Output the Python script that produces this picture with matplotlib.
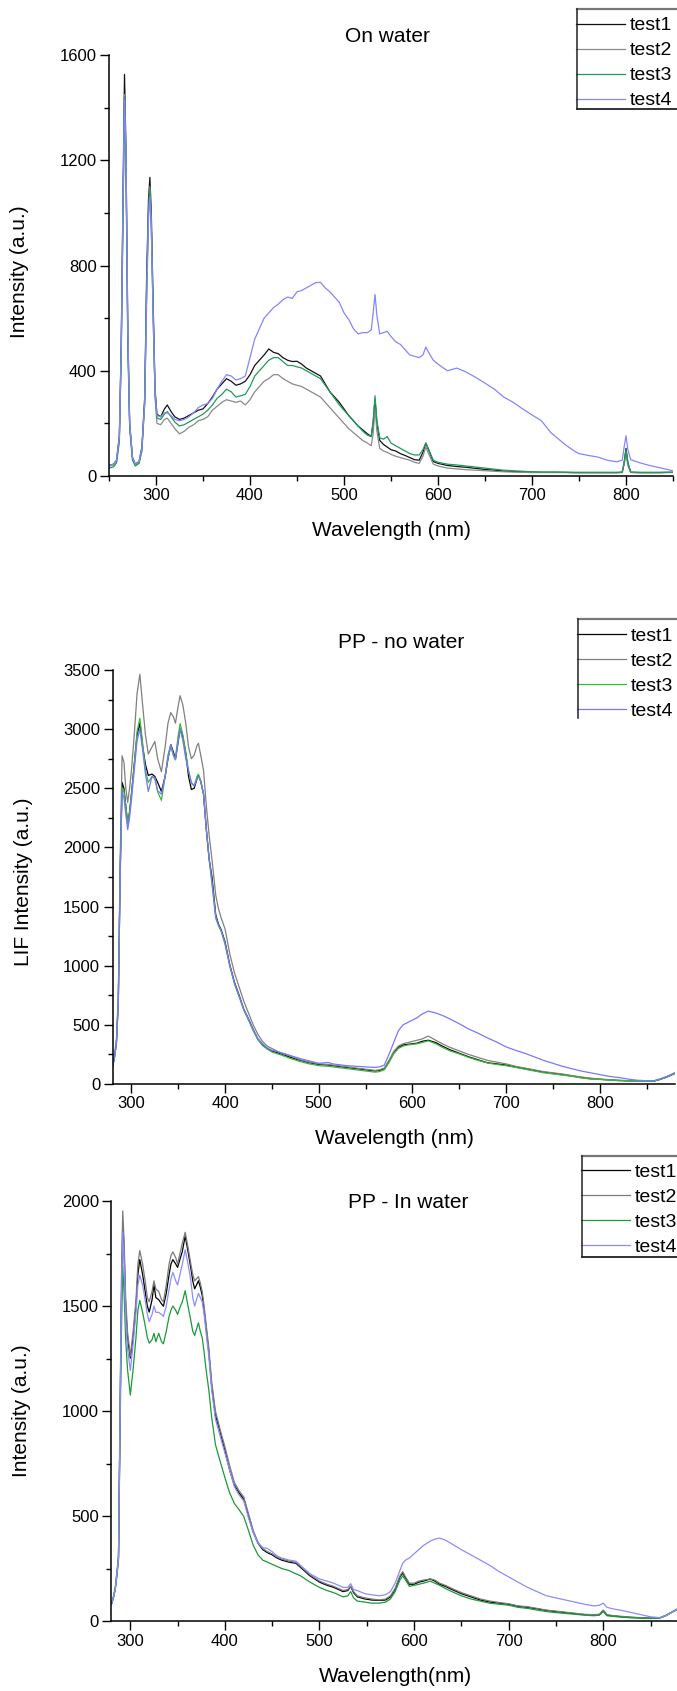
import matplotlib
matplotlib.use("Agg")
import matplotlib.pyplot as plt
from matplotlib.ticker import MultipleLocator
from matplotlib.lines import Line2D

plt.rcParams['font.family'] = ['Liberation Sans', 'DejaVu Sans']

# ---------------- Panel 1: On water ----------------
wl1 = [250, 255, 258, 261, 263, 265, 266.5, 268, 270, 272, 275, 278, 282, 285, 288, 290, 292, 293.5,
       295, 297, 299, 301, 305, 309, 312, 316, 320, 325, 330, 335, 340, 345, 350, 355, 360, 365, 370,
       375, 380, 385, 390, 395, 400, 405, 410, 415, 420, 425, 430, 435, 440, 445, 450, 455, 460, 465,
       470, 475, 480, 485, 490, 495, 500, 505, 510, 515, 520, 525, 529, 531, 533, 535, 538, 542, 546,
       550, 555, 560, 565, 570, 575, 580, 584, 587, 590, 595, 600, 610, 620, 630, 640, 650, 660, 670,
       680, 690, 700, 710, 720, 725, 735, 745, 750, 760, 770, 780, 790, 796, 798, 800, 802, 805, 815,
       825, 835, 845, 850]
p1_test1 = [40, 45, 60, 150, 500, 1100, 1526, 1250, 550, 200, 70, 45, 55, 110, 300, 750, 1050, 1135,
            1000, 650, 330, 235, 225, 255, 270, 245, 225, 215, 220, 230, 240, 250, 255, 275, 300, 330, 350,
            370, 360, 345, 350, 360, 385, 420, 440, 460, 483, 470, 465, 450, 440, 435, 436, 425, 410, 400,
            390, 380, 350, 320, 300, 280, 255, 230, 210, 190, 175, 160, 150, 200, 290, 200, 135, 120, 110,
            100, 95, 85, 78, 70, 62, 60, 90, 125, 100, 55, 48, 40, 36, 33, 29, 25, 22, 19,
            17, 16, 15, 14, 14, 14, 14, 13, 13, 13, 13, 13, 13, 14, 50, 105, 50, 14, 13,
            13, 13, 14, 14]
p1_test2 = [38, 42, 55, 140, 480, 1050, 1450, 1200, 520, 190, 65, 42, 50, 100, 280, 700, 1000, 1100,
            950, 600, 300, 200, 195, 215, 220, 200, 180, 160, 170, 185, 195, 210, 215, 225, 250, 265, 280,
            290, 285, 280, 285, 270, 290, 320, 340, 360, 370, 385, 385, 370, 360, 350, 345, 340, 330, 320,
            310, 300, 280, 260, 240, 220, 200, 180, 165, 150, 135, 125, 115, 160, 260, 170, 105, 95, 90,
            82, 75, 70, 65, 60, 52, 48, 75, 110, 85, 45, 38, 30, 27, 24, 22, 20, 18, 16,
            15, 14, 13, 13, 13, 13, 13, 12, 12, 12, 12, 12, 12, 13, 45, 80, 40, 13, 12,
            12, 12, 13, 13]
p1_test3 = [30, 35, 50, 130, 450, 1000, 1440, 1200, 500, 180, 60, 38, 48, 95, 280, 700, 1000, 1090,
            950, 620, 310, 220, 215, 235, 245, 225, 205, 190, 195, 205, 215, 225, 235, 250, 270, 295, 310,
            330, 320, 300, 305, 310, 340, 380, 400, 420, 440, 450, 450, 435, 420, 420, 415, 410, 400, 390,
            380, 370, 345, 320, 295, 270, 250, 230, 210, 190, 170, 155, 150, 210, 305, 210, 145, 140, 150,
            125, 115, 105, 95, 85, 80, 80, 100, 125, 100, 60, 52, 45, 42, 38, 34, 30, 26, 22,
            20, 18, 16, 15, 15, 15, 14, 14, 14, 14, 14, 14, 14, 15, 50, 100, 50, 15, 14,
            14, 14, 14, 14]
p1_test4 = [40, 45, 60, 150, 480, 1050, 1430, 1250, 560, 200, 70, 45, 55, 105, 280, 650, 980, 1060,
            950, 600, 320, 230, 225, 240, 240, 230, 215, 210, 215, 225, 240, 260, 270, 275, 295, 330, 360,
            385, 380, 365, 370, 380, 450, 520, 560, 600, 620, 640, 653, 670, 680, 675, 700, 705, 715, 725,
            735, 736, 715, 700, 680, 660, 620, 595, 560, 540, 545, 545, 555, 620, 690, 610, 540, 545, 550,
            530, 510, 500, 480, 460, 455, 450, 460, 490, 470, 440, 425, 400, 410, 395, 375, 353, 330, 300,
            280, 255, 232, 210, 165, 150, 120, 95, 85, 78, 72, 60, 54, 60, 110, 153, 100, 62, 50,
            40, 32, 24, 20]

# ---------------- Panel 2: PP - no water ----------------
wl2 = [280, 282, 284, 286, 288, 290, 292, 294, 296, 298, 300, 303, 306, 309, 312, 315, 318, 322, 325,
       328, 332, 336, 339, 342, 345, 347, 350, 352, 355, 358, 361, 364, 367, 370, 371.5, 374, 377, 380,
       383, 386, 390, 393, 396, 400, 405, 410, 415, 420, 425, 430, 435, 440, 445, 450, 460, 470, 480,
       490, 500, 510, 515, 520, 530, 540, 550, 560, 565, 570, 575, 580, 585, 590, 595, 600, 605, 610,
       617, 625, 632, 640, 650, 660, 670, 680, 690, 700, 710, 720, 730, 740, 750, 760, 770, 780, 790,
       800, 810, 820, 830, 840, 850, 858, 865, 872, 880]
p2_test1 = [150, 230, 350, 700, 1800, 2550, 2500, 2350, 2200, 2300, 2450, 2700, 2950, 3050, 2850, 2700,
            2609, 2620, 2600, 2550, 2473, 2600, 2750, 2870, 2800, 2745, 2900, 3002, 2930, 2800, 2600, 2490,
            2500, 2580, 2609, 2560, 2450, 2150, 1900, 1750, 1431, 1350, 1300, 1200, 1009, 860, 750, 631,
            550, 460, 380, 330, 300, 280, 254, 225, 200, 180, 165, 160, 155, 150, 140, 130, 120, 110, 115,
            130, 190, 260, 310, 330, 335, 340, 345, 360, 370, 350, 320, 290, 260, 230, 205, 180, 170, 160,
            145, 130, 115, 100, 90, 80, 68, 55, 45, 40, 35, 30, 27, 25, 24, 25, 40, 60, 90]
p2_test2 = [160, 250, 380, 750, 1900, 2775, 2720, 2500, 2380, 2500, 2650, 2950, 3300, 3464, 3200, 2950,
            2790, 2850, 2896, 2750, 2640, 2850, 3050, 3140, 3100, 3050, 3200, 3283, 3200, 3050, 2850, 2750,
            2780, 2860, 2881, 2780, 2650, 2350, 2100, 1900, 1598, 1480, 1400, 1310, 1100, 940, 820, 700,
            600, 500, 420, 360, 320, 300, 260, 235, 205, 185, 170, 165, 160, 155, 145, 135, 125, 115, 120,
            135, 200, 275, 320, 340, 350, 360, 370, 380, 405, 370, 340, 310, 280, 250, 225, 200, 185, 170,
            150, 135, 120, 105, 95, 85, 72, 60, 50, 42, 37, 32, 28, 26, 25, 26, 42, 62, 90]
p2_test3 = [150, 230, 350, 700, 1800, 2500, 2480, 2350, 2200, 2300, 2450, 2700, 2980, 3092, 2880, 2650,
            2550, 2600, 2580, 2470, 2398, 2600, 2750, 2850, 2780, 2760, 2950, 3047, 2950, 2800, 2650, 2540,
            2520, 2600, 2620, 2560, 2450, 2150, 1900, 1700, 1420, 1340, 1290, 1190, 1000, 850, 740, 625,
            540, 450, 375, 325, 295, 270, 245, 215, 190, 170, 155, 150, 145, 140, 130, 120, 110, 100, 105,
            120, 180, 255, 300, 320, 330, 335, 340, 350, 365, 340, 310, 280, 255, 225, 200, 178, 165, 155,
            140, 125, 110, 95, 85, 75, 65, 52, 42, 38, 33, 28, 25, 24, 23, 25, 40, 60, 85]
p2_test4 = [150, 230, 350, 700, 1750, 2470, 2420, 2280, 2150, 2250, 2400, 2650, 2900, 3002, 2820, 2620,
            2473, 2600, 2590, 2480, 2450, 2600, 2780, 2870, 2770, 2740, 2900, 3000, 2900, 2750, 2650, 2550,
            2520, 2580, 2600, 2560, 2450, 2150, 1900, 1700, 1400, 1340, 1290, 1180, 1000, 850, 740, 630,
            550, 460, 385, 340, 305, 285, 265, 240, 215, 195, 175, 182, 170, 165, 155, 150, 145, 140, 145,
            160, 250, 350, 450, 500, 520, 540, 560, 590, 616, 600, 580, 550, 510, 465, 430, 390, 355, 314,
            285, 260, 230, 200, 175, 150, 130, 110, 95, 80, 65, 55, 42, 32, 28, 28, 45, 65, 95]

# ---------------- Panel 3: PP - In water ----------------
wl3 = [280, 282, 284, 286, 287.5, 289, 290.5, 292, 293.5, 295, 297, 300, 303, 306, 308, 310, 313, 316,
       318, 320, 323, 325, 327, 330, 333, 335, 338, 341, 343, 345, 348, 350, 353, 355, 358, 361, 364,
       366, 368, 370, 372, 374, 376, 378, 380, 383, 386, 390, 395, 400, 405, 410, 415, 420, 425, 430,
       435, 440, 445, 450, 455, 460, 468, 475, 480, 490, 500, 508, 515, 525, 530, 533, 536, 540, 548,
       555, 563, 570, 575, 580, 585, 588, 591, 595, 600, 605, 610, 617, 622, 627, 633, 640, 650, 660,
       670, 680, 690, 700, 710, 720, 730, 740, 750, 760, 770, 780, 790, 796, 800, 804, 810, 820, 830,
       840, 850, 860, 866, 872, 880]
p3_test1 = [80, 110, 150, 230, 300, 900, 1500, 1900, 1750, 1500, 1350, 1252, 1350, 1500, 1650, 1721, 1650,
            1560, 1500, 1471, 1530, 1601, 1540, 1530, 1510, 1499, 1560, 1650, 1700, 1721, 1700, 1684, 1730,
            1760, 1833, 1760, 1680, 1620, 1582, 1600, 1620, 1590, 1550, 1480, 1400, 1280, 1120, 980, 900,
            812, 720, 646, 610, 580, 500, 423, 370, 340, 325, 315, 300, 290, 280, 275, 255, 215, 185, 170,
            160, 140, 145, 165, 135, 115, 105, 100, 98, 100, 115, 150, 210, 228, 205, 175, 175, 185, 190,
            200, 190, 175, 165, 150, 130, 115, 100, 90, 85, 80, 70, 65, 58, 50, 45, 40, 35, 30, 28, 30, 50,
            28, 24, 20, 17, 15, 14, 15, 25, 40, 60]
p3_test2 = [85, 115, 160, 240, 310, 950, 1600, 1953, 1800, 1550, 1380, 1260, 1380, 1530, 1700, 1764, 1700,
            1610, 1540, 1520, 1570, 1620, 1580, 1570, 1530, 1520, 1600, 1700, 1740, 1758, 1730, 1700, 1760,
            1800, 1851, 1780, 1700, 1650, 1620, 1630, 1640, 1610, 1570, 1500, 1420, 1300, 1140, 1000, 910,
            830, 740, 660, 620, 590, 510, 430, 375, 345, 330, 320, 305, 295, 285, 280, 260, 220, 190, 175,
            165, 145, 150, 165, 140, 120, 110, 105, 100, 105, 120, 155, 215, 235, 210, 180, 180, 190, 195,
            200, 195, 180, 170, 155, 135, 120, 105, 95, 88, 82, 72, 68, 60, 52, 47, 42, 37, 32, 30, 32, 52,
            30, 26, 22, 18, 16, 15, 16, 27, 42, 62]
p3_test3 = [80, 105, 150, 220, 290, 850, 1350, 1688, 1550, 1350, 1200, 1076, 1200, 1350, 1480, 1527, 1470,
            1400, 1350, 1323, 1340, 1370, 1330, 1370, 1330, 1320, 1380, 1450, 1480, 1500, 1480, 1460, 1500,
            1520, 1573, 1500, 1430, 1380, 1360, 1390, 1420, 1380, 1350, 1280, 1200, 1100, 970, 840, 760,
            683, 610, 560, 530, 497, 430, 360, 315, 290, 280, 270, 260, 250, 240, 225, 215, 185, 160, 145,
            135, 115, 120, 140, 110, 95, 90, 85, 85, 90, 105, 140, 195, 215, 195, 165, 170, 175, 180,
            190, 180, 170, 155, 140, 120, 105, 95, 85, 80, 75, 65, 60, 52, 45, 40, 36, 32, 28, 25, 28, 45,
            25, 22, 18, 15, 13, 12, 14, 25, 40, 60]
p3_test4 = [80, 110, 150, 230, 300, 900, 1500, 1850, 1700, 1450, 1300, 1193, 1320, 1470, 1600, 1647, 1600,
            1520, 1460, 1425, 1460, 1500, 1470, 1470, 1460, 1450, 1500, 1580, 1630, 1660, 1620, 1600, 1660,
            1700, 1768, 1700, 1620, 1540, 1499, 1530, 1560, 1540, 1520, 1460, 1380, 1260, 1100, 961, 880,
            800, 720, 640, 600, 570, 490, 420, 370, 350, 345, 330, 310, 300, 290, 285, 265, 225, 200, 190,
            180, 160, 160, 178, 150, 145, 130, 125, 120, 125, 140, 180, 240, 275, 290, 300, 320, 340, 360,
            380, 390, 395, 385, 367, 340, 315, 290, 265, 235, 210, 185, 160, 140, 120, 110, 100, 90, 80, 72,
            75, 85, 65, 58, 50, 40, 30, 20, 16, 25, 40, 62]

labels = ["test1", "test2", "test3", "test4"]

W, H = 677, 1691
fig = plt.figure(figsize=(W / 100, H / 100), dpi=100)


def fx(px):
    return px / W


def fy(py):
    return 1 - py / H


def make_axes(left, right, top, bottom):
    return fig.add_axes([fx(left), fy(bottom), (right - left) / W, (bottom - top) / H])


def style(ax, xlim, ylim, xmaj, xmin, ymaj, ymin):
    ax.set_xlim(*xlim)
    ax.set_ylim(*ylim)
    ax.xaxis.set_major_locator(MultipleLocator(xmaj))
    ax.xaxis.set_minor_locator(MultipleLocator(xmin))
    ax.yaxis.set_major_locator(MultipleLocator(ymaj))
    ax.yaxis.set_minor_locator(MultipleLocator(ymin))
    for s in ("top", "right"):
        ax.spines[s].set_visible(False)
    for s in ("left", "bottom"):
        ax.spines[s].set_linewidth(1.1)
        ax.spines[s].set_color("black")
    ax.tick_params(which="major", direction="out", length=6.5, width=1.0, labelsize=12, pad=2.5)
    ax.tick_params(which="minor", direction="out", length=3.8, width=1.0)
    ax.patch.set_alpha(0)


def figline(xs, ys, color, lw):
    fig.add_artist(Line2D([fx(x) for x in xs], [fy(y) for y in ys], color=color, lw=lw,
                          transform=fig.transFigure))


def legend(ax, handles, anchor_left, anchor_top, box_left, box_top, box_bottom=None):
    leg = ax.legend(handles, labels, loc="upper left", bbox_to_anchor=(fx(anchor_left), fy(anchor_top)),
                    bbox_transform=fig.transFigure, fontsize=14, frameon=True, fancybox=False,
                    borderpad=0.1, handlelength=2.5, handletextpad=0.25, labelspacing=0.38,
                    borderaxespad=0)
    leg.get_frame().set_visible(False)
    figline([box_left, W], [box_top, box_top], "#777777", 1.6)
    bottom = box_bottom if box_bottom is not None else box_top + 99
    figline([box_left, box_left], [box_top, bottom], "#222222", 1.1)
    if box_bottom is not None:
        figline([box_left, W], [box_bottom, box_bottom], "#222222", 1.3)
    return leg


# Panel 1
ax1 = make_axes(109, 673, 55, 476)
c1 = ["#111111", "#8a8a8a", "#1e9c5a", "#8585ff"]
h1 = []
for ys, c in zip([p1_test1, p1_test2, p1_test3, p1_test4], c1):
    h1 += ax1.plot(wl1, ys, color=c, lw=0.9)
style(ax1, (250, 850), (0, 1600), 100, 50, 400, 200)
legend(ax1, h1, 574, 14.8, 576.5, 9.3, 109.4)
fig.text(fx(387), fy(37), "On water", ha="center", va="center", fontsize=15)
fig.text(fx(391), fy(531), "Wavelength (nm)", ha="center", va="center", fontsize=15)
fig.text(fx(19.5), fy(272), "Intensity (a.u.)", ha="center", va="center", fontsize=15, rotation=90)

# Panel 2
ax2 = make_axes(112.7, 674.6, 670, 1084)
c2 = ["#000000", "#808080", "#3cb83c", "#7878ff"]
h2 = []
for ys, c in zip([p2_test1, p2_test2, p2_test3, p2_test4], c2):
    h2 += ax2.plot(wl2, ys, color=c, lw=0.9)
style(ax2, (280, 880), (0, 3500), 100, 50, 500, 250)
legend(ax2, h2, 575.5, 625.6, 578, 619, None)
fig.text(fx(401), fy(643), "PP - no water", ha="center", va="center", fontsize=15)
fig.text(fx(394), fy(1138.5), "Wavelength (nm)", ha="center", va="center", fontsize=15)
fig.text(fx(24), fy(882), "LIF Intensity (a.u.)", ha="center", va="center", fontsize=15, rotation=90)

# Panel 3
ax3 = make_axes(111.4, 678.9, 1201, 1621)
c3 = ["#000000", "#7a7a7a", "#1a9a3a", "#8c8cff"]
h3 = []
for ys, c in zip([p3_test1, p3_test2, p3_test3, p3_test4], c3):
    h3 += ax3.plot(wl3, ys, color=c, lw=0.9)
style(ax3, (280, 880), (0, 2000), 100, 50, 500, 250)
legend(ax3, h3, 579.5, 1161, 581.6, 1156, 1257)
fig.text(fx(408), fy(1203), "PP - In water", ha="center", va="center", fontsize=15)
fig.text(fx(395), fy(1676), "Wavelength(nm)", ha="center", va="center", fontsize=15)
fig.text(fx(21.6), fy(1411), "Intensity (a.u.)", ha="center", va="center", fontsize=15, rotation=90)

fig.savefig("out.png", dpi=100, facecolor="white")
